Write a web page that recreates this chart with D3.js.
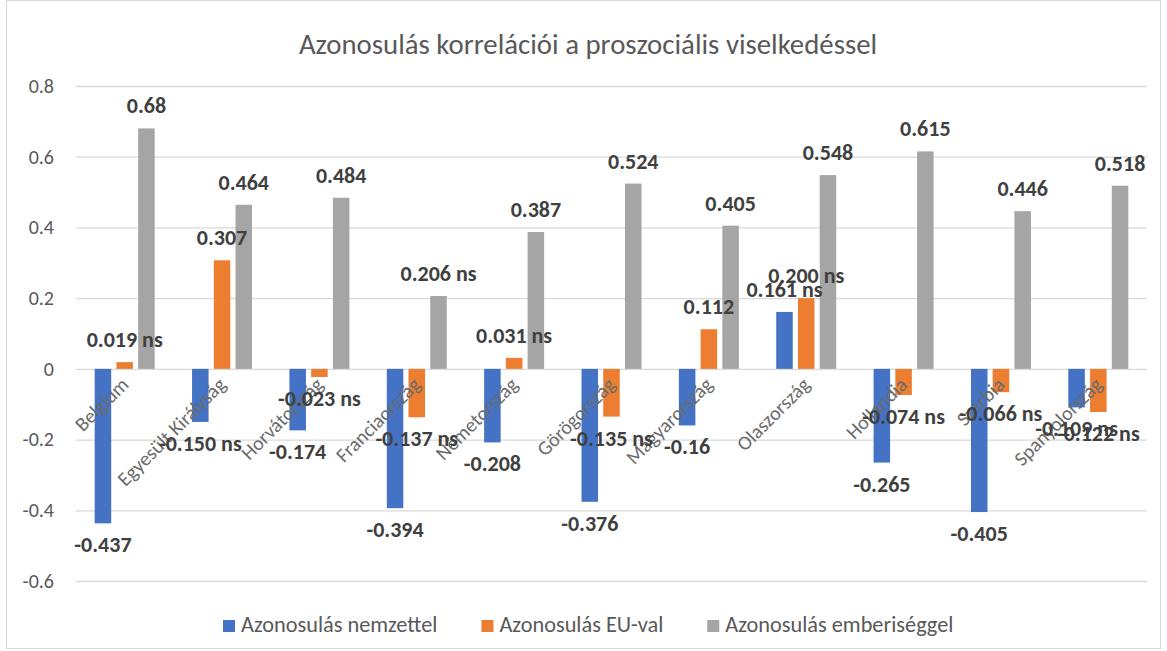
<!DOCTYPE html>
<html>
<head>
<meta charset="utf-8">
<script src="https://cdn.jsdelivr.net/npm/d3@7"></script>
<style>
  body { margin: 0; background: #fff; }
  text { font-family: Carlito, Calibri, "Liberation Sans", Arial, sans-serif; }
</style>
</head>
<body>
<svg id="chart" width="1167" height="651"></svg>
<script>
// data
var categories = ['Belgium', 'Egyesült Királyság', 'Horvátország', 'Franciaország', 'Németország',
  'Görögország', 'Magyarország', 'Olaszország', 'Hollandia', 'Szerbia', 'Spanyolország'];
var seriesNames = ['Azonosulás nemzettel', 'Azonosulás EU-val', 'Azonosulás emberiséggel'];
var nemzet = [-0.437, -0.150, -0.174, -0.394, -0.208, -0.376, -0.160, 0.161, -0.265, -0.405, -0.109];
var eu = [0.019, 0.307, -0.023, -0.137, 0.031, -0.135, 0.112, 0.200, -0.074, -0.066, -0.122];
var ember = [0.68, 0.464, 0.484, 0.206, 0.387, 0.524, 0.405, 0.548, 0.615, 0.446, 0.518];
var nemzetLabels = ['-0.437', '-0.150 ns', '-0.174', '-0.394', '-0.208', '-0.376', '-0.16', '0.161 ns', '-0.265', '-0.405', '-0.109 ns'];
var euLabels = ['0.019 ns', '0.307', '-0.023 ns', '-0.137 ns', '0.031 ns', '-0.135 ns', '0.112', '0.200 ns', '-0.074 ns', '-0.066 ns', '-0.122 ns'];
var emberLabels = ['0.68', '0.464', '0.484', '0.206 ns', '0.387', '0.524', '0.405', '0.548', '0.615', '0.446', '0.518'];
var yTicks = [0.8, 0.6, 0.4, 0.2, 0, -0.2, -0.4, -0.6];
var colors = ['#4472C4', '#ED7D31', '#A5A5A5'];

var series = [
  { name: seriesNames[0], values: nemzet, labels: nemzetLabels },
  { name: seriesNames[1], values: eu, labels: euLabels },
  { name: seriesNames[2], values: ember, labels: emberLabels }
];

var svg = d3.select('#chart');
var plotLeft = 76, plotRight = 1147, plotTop = 86, plotBottom = 581;

// chart border
svg.append('rect')
  .attr('x', 6.5).attr('y', 0.5)
  .attr('width', 1154).attr('height', 648)
  .attr('fill', '#fff')
  .attr('stroke', '#d9d9d9');

svg.append('text')
  .attr('x', 588).attr('y', 54)
  .attr('text-anchor', 'middle')
  .attr('font-size', 28.8)
  .attr('fill', '#595959')
  .text('Azonosulás korrelációi a proszociális viselkedéssel');

var y = d3.scaleLinear().domain([-0.6, 0.8]).range([plotBottom, plotTop]);
var x0 = d3.scaleBand().domain(categories).range([plotLeft, plotRight]).paddingInner(0).paddingOuter(0);
var x1 = d3.scaleBand().domain([0, 1, 2]).range([x0.bandwidth() / 2 - 30, x0.bandwidth() / 2 + 30]).paddingInner(0.24);

// gridlines + tick labels
var yAxis = d3.axisLeft(y).tickValues(yTicks).tickSize(-(plotRight - plotLeft)).tickPadding(22);
var ga = svg.append('g').attr('transform', 'translate(' + plotLeft + ',0)').call(yAxis);
ga.select('.domain').remove();
ga.selectAll('.tick line').attr('stroke', '#d9d9d9').attr('stroke-width', 1.3);
ga.selectAll('.tick text')
  .attr('font-size', 20)
  .attr('font-family', 'Carlito, Calibri, "Liberation Sans", sans-serif')
  .attr('fill', '#595959')
  .text(function(d) { return String(d); });

// bars
series.forEach(function(s, i) {
  var g = svg.append('g');
  g.selectAll('rect')
    .data(s.values)
    .enter()
    .append('rect')
    .attr('x', function(d, j) { return x0(categories[j]) + x1(i); })
    .attr('width', x1.bandwidth())
    .attr('y', function(d) { return y(Math.max(0, d)); })
    .attr('height', function(d) { return Math.abs(y(d) - y(0)); })
    .attr('fill', colors[i]);
});

// category labels, rotated near the zero line
svg.append('g').selectAll('text')
  .data(categories)
  .enter()
  .append('text')
  .attr('transform', function(d) {
    return 'translate(' + (x0(d) + x0.bandwidth() / 2 + 5) + ',' + (y(0) + 17) + ') rotate(-45)';
  })
  .attr('text-anchor', 'end')
  .attr('font-size', 20)
  .attr('fill', '#6b6b6b')
  .text(function(d) { return d; });

// data labels
series.forEach(function(s, i) {
  svg.append('g').selectAll('text')
    .data(s.values)
    .enter()
    .append('text')
    .attr('x', function(d, j) { return x0(categories[j]) + x1(i) + x1.bandwidth() / 2; })
    .attr('y', function(d) { return d >= 0 ? y(d) - 15 : y(d) + 29; })
    .attr('text-anchor', 'middle')
    .attr('font-size', 22)
    .attr('font-weight', 'bold')
    .attr('fill', '#404040')
    .text(function(d, j) { return s.labels[j]; });
});

// legend
var legend = svg.append('g');
var lx = 0;
series.forEach(function(s, i) {
  var item = legend.append('g').attr('transform', 'translate(' + lx + ',0)');
  item.append('rect').attr('x', 0).attr('y', -12).attr('width', 12).attr('height', 12).attr('fill', colors[i]);
  var t = item.append('text').attr('x', 18).attr('y', 0)
    .attr('font-size', 22.3).attr('fill', '#595959').text(s.name);
  lx += 18 + t.node().getComputedTextLength() + 44;
});
lx -= 44;
legend.attr('transform', 'translate(' + (223 + (962 - 223 - lx) / 2 - (962 - 223 - lx) / 2) + ',632)');
</script>
</body>
</html>
